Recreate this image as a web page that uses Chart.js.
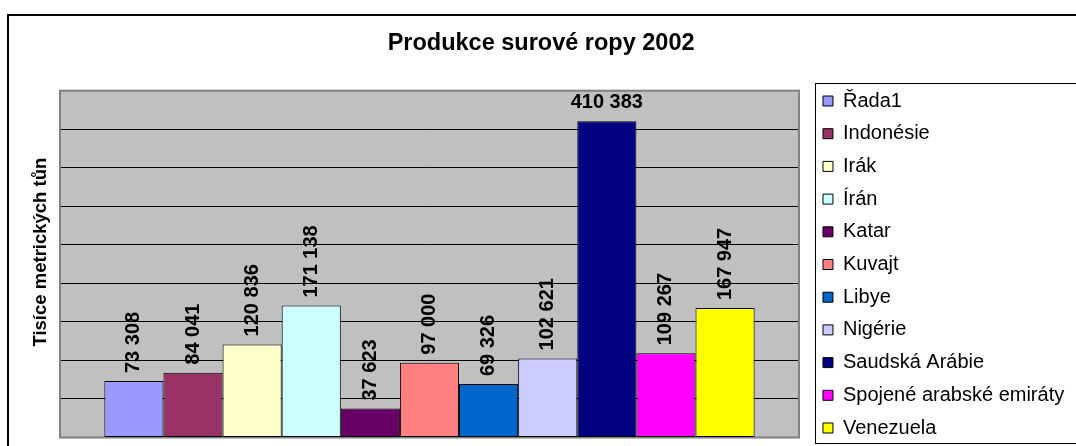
<!DOCTYPE html>
<html><head><meta charset="utf-8">
<script src="https://cdn.jsdelivr.net/npm/chart.js@4"></script>
<style>html,body{margin:0;padding:0;background:#fff;overflow:hidden;} #wrap{width:1076px;height:446px;position:relative;}</style>
</head><body><div id="wrap"><canvas id="c"></canvas></div>
<script>
const countries = ['Řada1','Indonésie','Irák','Írán','Katar','Kuvajt','Libye','Nigérie','Saudská Arábie','Spojené arabské emiráty','Venezuela'];
const values = [73308, 84041, 120836, 171138, 37623, 97000, 69326, 102621, 410383, 109267, 167947];
const colors = ['#9999FF','#993366','#FFFFCC','#CCFFFF','#660066','#FF8080','#0066CC','#CCCCFF','#000080','#FF00FF','#FFFF00'];
const categories = [''];
const yMax = 450000;
const yStep = 50000;
const chartTitle = 'Produkce surové ropy 2002';
const yTitle = 'Tisíce metrických tůn';

const FONT = "'Liberation Sans', Arial, sans-serif";
Chart.defaults.font.family = FONT;
Chart.defaults.color = '#000';

function fmt(v) { return String(v).replace(/\B(?=(\d{3})+(?!\d))/g, ' '); }

const decor = {
  id: 'decor',
  beforeDraw(chart) {
    const {ctx, chartArea: a, width, height} = chart;
    ctx.save();
    ctx.fillStyle = '#fff'; ctx.fillRect(0, 0, width, height);
    ctx.lineWidth = 2; ctx.strokeStyle = '#000';
    ctx.strokeRect(8, 15, width + 20, height + 20);
    ctx.fillStyle = '#C0C0C0';
    ctx.fillRect(a.left, a.top, a.right - a.left, a.bottom - a.top);
    ctx.restore();
  },
  beforeDatasetsDraw(chart) {
    const {ctx, chartArea: a} = chart;
    ctx.save();
    ctx.strokeStyle = '#808080'; ctx.lineWidth = 2;
    ctx.strokeRect(a.left, a.top, a.right - a.left, a.bottom - a.top);
    ctx.restore();
  },
  afterDatasetsDraw(chart) {
    const {ctx, chartArea: a} = chart;
    ctx.save();
    ctx.fillStyle = '#000';
    ctx.font = 'bold 20px ' + FONT;
    chart.data.datasets.forEach((ds, i) => {
      const meta = chart.getDatasetMeta(i);
      const bar = meta.data[0];
      if (!bar) return;
      const txt = fmt(ds.data[0]);
      const w = ctx.measureText(txt).width;
      if (bar.y - 8 - w < a.top) {
        ctx.textAlign = 'center'; ctx.textBaseline = 'alphabetic';
        ctx.fillText(txt, bar.x, bar.y - 13);
      } else {
        ctx.save();
        ctx.translate(bar.x, bar.y - 8);
        ctx.rotate(-Math.PI / 2);
        ctx.textAlign = 'left'; ctx.textBaseline = 'middle';
        ctx.fillText(txt, 0, 0);
        ctx.restore();
      }
    });
    ctx.restore();
  },
  afterDraw(chart) {
    const {ctx, chartArea: a, width} = chart;
    ctx.save();
    const hb = chart.legend.legendHitBoxes;
    if (hb && hb.length) {
      const first = hb[0], last = hb[hb.length - 1];
      const x = Math.round(first.left) - 8 + 0.5;
      const top = Math.round(first.top) - 8 + 0.5;
      const bottom = Math.round(last.top + last.height) + 5 + 0.5;
      ctx.strokeStyle = '#000'; ctx.lineWidth = 1;
      ctx.strokeRect(x, top, width + 20, bottom - top);
    }
    ctx.fillStyle = '#000';
    ctx.font = 'bold 18.5px ' + FONT;
    ctx.translate(41, (a.top + a.bottom) / 2 - 12);
    ctx.rotate(-Math.PI / 2);
    ctx.textAlign = 'center'; ctx.textBaseline = 'middle';
    ctx.fillText(yTitle, 0, 0);
    ctx.restore();
  }
};

new Chart(document.getElementById('c'), {
  type: 'bar',
  data: {
    labels: categories,
    datasets: countries.map((name, i) => ({
      label: name,
      data: [values[i]],
      backgroundColor: colors[i],
      borderColor: '#000',
      borderWidth: 1,
      borderSkipped: false,
      categoryPercentage: 0.88,
      barPercentage: 1
    }))
  },
  options: {
    responsive: true,
    maintainAspectRatio: false,
    animation: false,
    layout: {padding: {left: 8, top: 19, right: 1.8, bottom: -4.7}},
    plugins: {
      title: {display: true, text: chartTitle, color: '#000', font: {size: 23.5, weight: 'bold'}, padding: {top: 10, bottom: 33.5}},
      legend: {position: 'right', fullSize: true, align: 'end',
        labels: {color: '#000', font: {size: 20}, boxWidth: 10, boxHeight: 10, padding: 12.7}},
      tooltip: {enabled: false}
    },
    scales: {
      x: {
        display: true,
        ticks: {display: false}, grid: {display: false, drawTicks: false}, border: {display: false},
        afterFit: s => { s.height = 13.2; }
      },
      y: {
        min: 0, max: yMax,
        ticks: {display: false, stepSize: yStep},
        grid: {color: c => (c.tick && (c.tick.value === 0 || c.tick.value === yMax)) ? 'rgba(0,0,0,0)' : '#000', drawTicks: false, lineWidth: 1},
        border: {display: false},
        afterFit: s => { s.width = 52; }
      },
      y2: {
        position: 'right', display: false,
        afterFit: s => { s.width = 11.3; }
      }
    }
  },
  plugins: [decor]
});
</script>
</body></html>
